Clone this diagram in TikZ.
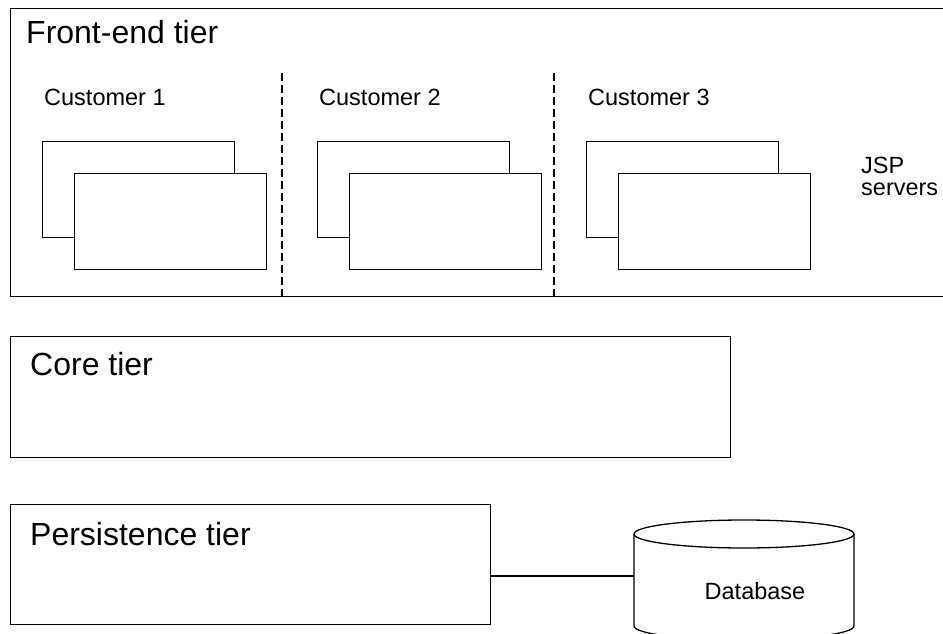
\documentclass[tikz,border=0pt]{standalone}
\usepackage{fontspec}
\setmainfont{Liberation Sans}
\usetikzlibrary{positioning}

\begin{document}
\begin{tikzpicture}[x=1pt, y=-1pt]
    \tikzstyle{tier} = [rectangle, draw=black, line width=1.3pt, anchor=north west, inner sep=0pt]
    \tikzstyle{server} = [rectangle, draw=black, fill=white, line width=1.3pt, anchor=north west, inner sep=0pt, minimum width=192pt, minimum height=96pt]
    \tikzstyle{bigtext} = [anchor=base west, inner sep=0pt, font=\fontsize{32}{36}\selectfont]
    \tikzstyle{smalltext} = [anchor=base west, inner sep=0pt, font=\fontsize{23.5}{22}\selectfont]
    \tikzstyle{sep} = [line width=1.1pt, dash pattern=on 8pt off 4pt]
    \tikzstyle{link} = [line width=1.3pt]

    \useasboundingbox (0,0) rectangle (943,634);
    \clip (0,0) rectangle (943,634);

    % tiers
    \node (front) [tier, minimum width=940pt, minimum height=288pt] at (10,8) {};
    \node (core) [tier, minimum width=720pt, minimum height=121pt] at (10,336) {};
    \node (persist) [tier, minimum width=480pt, minimum height=120pt] at (10,504) {};

    \node (fronttext) [bigtext] at (26,44) {Front-end tier};
    \node (coretext) [bigtext] at (30,375) {Core tier};
    \node (persisttext) [bigtext] at (30,545) {Persistence tier};

    % customers
    \foreach \i/\dx in {1/0, 2/275, 3/544} {
        \node (cust\i) [smalltext] at (44+\dx,106) {Customer \i};
        \node (back\i) [server] at (42+\dx,141) {};
        \node (srv\i) [server] at (74+\dx,173) {};
    }
    \coordinate (sep1) at (282,73);
    \coordinate (sep2) at (554,73);
    \draw [sep] (sep1) -- (sep1 |- front.south);
    \draw [sep] (sep2) -- (sep2 |- front.south);

    \node (jsp) [smalltext, align=left] at (861,195) {JSP\\servers};

    % database
    \draw [link, fill=white] (634,534) -- (634,626) arc[start angle=180, end angle=0, x radius=110, y radius=14] -- (854,534);
    \draw [link] (744,534) ellipse [x radius=110, y radius=14];
    \node (db) [smalltext, anchor=base] at (755,599) {Database};
    \coordinate (dbside) at (634,576);
    \draw [link] (persist.east |- dbside) -- (dbside);
\end{tikzpicture}
\end{document}
